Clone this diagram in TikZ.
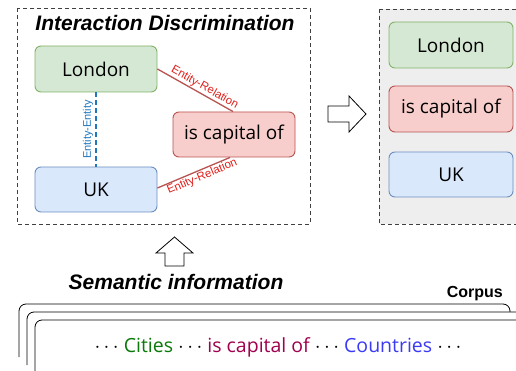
\documentclass[tikz,border=0pt]{standalone}
\usepackage{fontspec}
\setmainfont{Open Sans}
\newfontfamily\arialfont{Liberation Sans}
\usetikzlibrary{calc}
\definecolor{greenfill}{HTML}{D5E8D4}
\definecolor{greenline}{HTML}{82B366}
\definecolor{bluefill}{HTML}{DAE8FC}
\definecolor{blueline}{HTML}{6C8EBF}
\definecolor{redfill}{HTML}{F8CECC}
\definecolor{redline}{HTML}{B85450}
\definecolor{panelgray}{HTML}{EEEEEE}
\definecolor{eeblue}{HTML}{1F78BE}
\definecolor{erred}{HTML}{E0201C}
\definecolor{citygreen}{HTML}{0B7A0B}
\definecolor{relpurple}{HTML}{A0004E}
\definecolor{countryblue}{HTML}{3B3BF5}
\tikzset{
  x=1pt, y=-1pt,
  entbox/.style={draw, line width=0.9pt, rounded corners=6pt, inner sep=0pt,
    font=\fontsize{19}{21}\selectfont},
  panel/.style={draw=black!75, line width=0.8pt, dash pattern=on 4pt off 3pt},
  reltag/.style={font=\arialfont\fontsize{11.5}{13}\selectfont, text=erred, inner sep=1pt},
  doc/.style={draw=black, line width=0.8pt, fill=white, rounded corners=7pt},
  hollowarrow/.style={draw=black, line width=0.8pt, fill=white},
}
\begin{document}
\begin{tikzpicture}
\clip (0,0) rectangle (516,371);
\fill[white] (0,0) rectangle (516,371);

% left panel
\draw[panel] (17,8) rectangle (310,224);
\node[font=\arialfont\bfseries\itshape\fontsize{21}{24}\selectfont] (title) at (165,23) {Interaction Discrimination};

\node[entbox, fill=greenfill, draw=greenline, minimum width=122pt, minimum height=46pt] (london) at (96,69) {London};
\node[entbox, fill=bluefill, draw=blueline, minimum width=122pt, minimum height=45pt] (uk) at (96,189.5) {UK};
\node[entbox, fill=redfill, draw=redline, minimum width=122pt, minimum height=45pt] (rel) at (234,134.5) {is capital of};

\draw[eeblue, line width=1.6pt, dash pattern=on 5pt off 3pt] (london.south) -- (uk.north)
  node[midway, rotate=90, above, font=\arialfont\fontsize{11}{12}\selectfont, text=eeblue, inner sep=2pt] {Entity-Entity};
\draw[redline, line width=1.3pt] (london.east) -- ($(rel.north)+(-1,0)$)
  node[pos=0.58, sloped, above, reltag] {Entity-Relation};
\draw[redline, line width=1.3pt] ($(uk.east)+(0,-1.5)$) -- ($(rel.south)+(-4,0)$)
  node[pos=0.58, sloped, below, reltag] {Entity-Relation};

% arrow to the right panel
\draw[hollowarrow] (328,106) -- (349,106) -- (349,96) -- (366,114) -- (349,132) -- (349,122) -- (328,122) -- cycle;

% right panel
\draw[panel, fill=panelgray] (379,9) rectangle (530,224);
\node[entbox, fill=greenfill, draw=greenline, minimum width=124pt, minimum height=46pt] (london2) at (451,45) {London};
\node[entbox, fill=redfill, draw=redline, minimum width=124pt, minimum height=46pt] (rel2) at (451,109) {is capital of};
\node[entbox, fill=bluefill, draw=blueline, minimum width=124pt, minimum height=45pt] (uk2) at (451,174.5) {UK};

% arrow up from the corpus
\draw[hollowarrow] (174.5,237) -- (193,253) -- (184,253) -- (184,266) -- (165,266) -- (165,253) -- (156,253) -- cycle;
\node[font=\arialfont\bfseries\itshape\fontsize{21}{24}\selectfont] (sem) at (176,282) {Semantic information};

% stacked corpus documents
\node[font=\arialfont\bfseries\fontsize{16}{18}\selectfont, anchor=east, inner sep=0pt] (corpus) at (503,294) {Corpus};
\draw[doc] (19,357) -- (19,304) -- (510,304) -- (510,380);
\draw[doc] (27,365) -- (27,312) -- (540,312) -- (540,390);
\draw[doc] (35,390) -- (35,320) -- (560,320) -- (560,400);
\node[font=\fontsize{19.5}{22}\selectfont] (sent) at (278,347)
  {$\cdots$ \textcolor{citygreen}{Cities} $\cdots$ \textcolor{relpurple}{is capital of} $\cdots$ \textcolor{countryblue}{Countries} $\cdots$};
\end{tikzpicture}
\end{document}
